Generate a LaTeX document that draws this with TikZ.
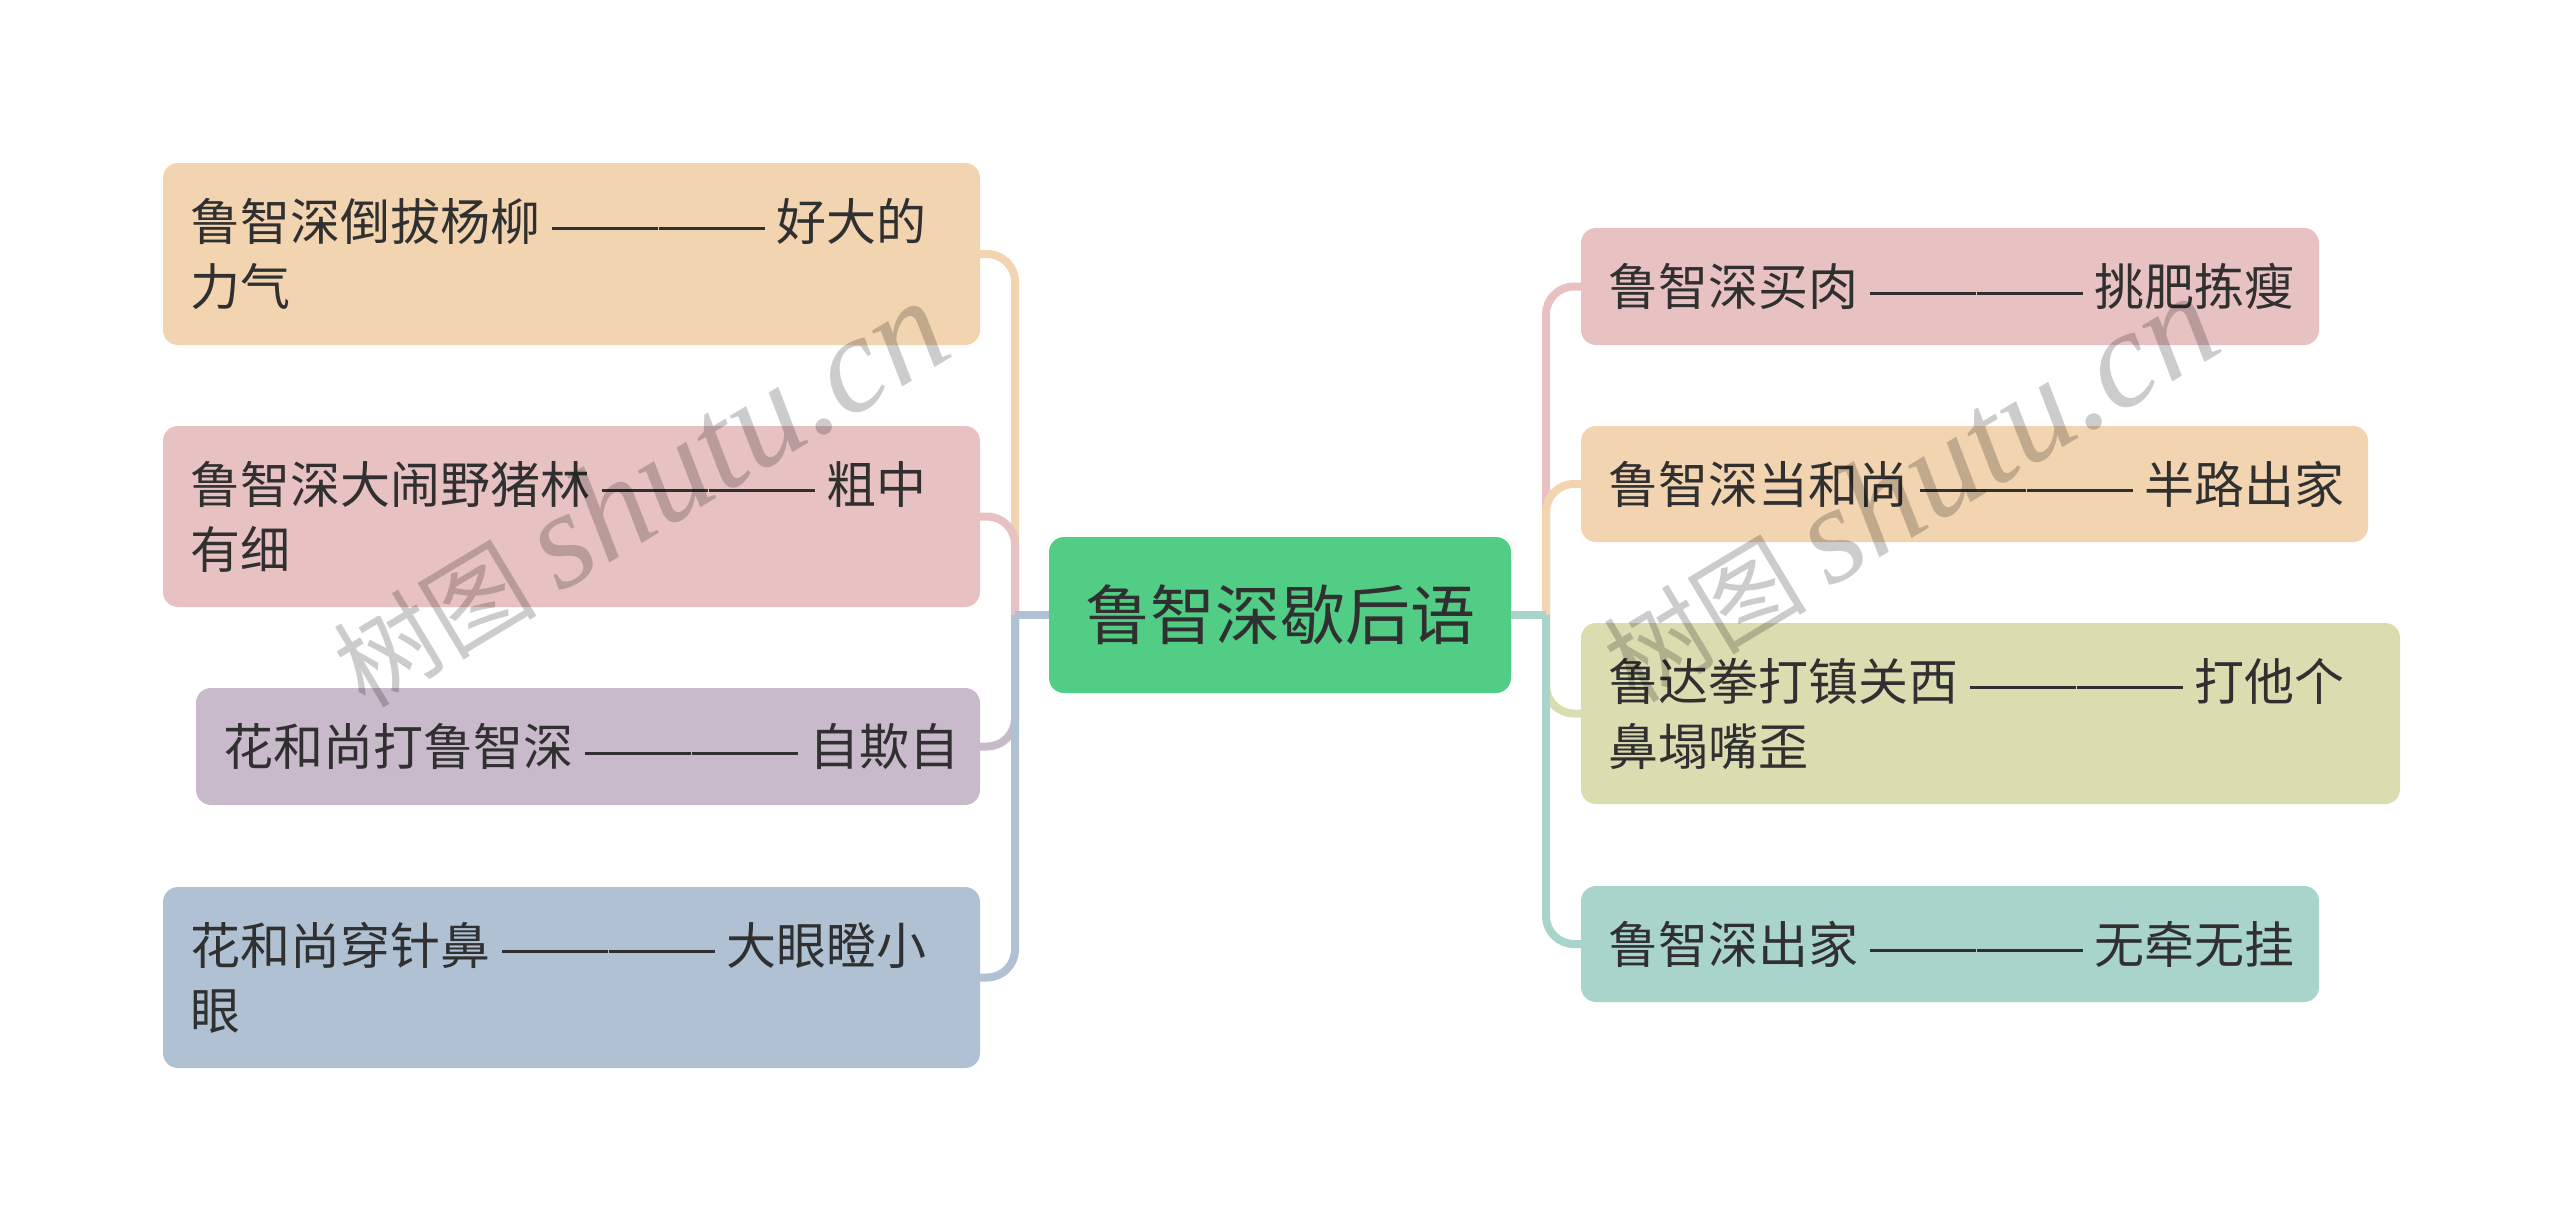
\documentclass[tikz,border=0pt]{standalone}
\usepackage{fontspec}
\setmainfont{Noto Sans CJK SC}
\newfontfamily\wmlatin{Liberation Serif}
\newfontfamily\wmcjk{Noto Sans CJK SC}
\definecolor{cpeach}{HTML}{F2D4B1}
\definecolor{cpink}{HTML}{E8C2C2}
\definecolor{cpurple}{HTML}{C8BACA}
\definecolor{cblue}{HTML}{B0C1D3}
\definecolor{cgreen}{HTML}{52CD85}
\definecolor{cygreen}{HTML}{D9DDB0}
\definecolor{cteal}{HTML}{A9D4CB}
\definecolor{txt}{HTML}{303030}
\newcommand\dsh{\mbox{\hspace{12pt}\rule[11pt]{53pt}{3pt}\hspace{0.4pt}\rule[11pt]{53pt}{3pt}\hspace{0.4pt}\rule[11pt]{53pt}{3pt}\hspace{0.4pt}\rule[11pt]{53pt}{3pt}\hspace{11pt}}}
\tikzset{
  leaf/.style={rectangle, rounded corners=15pt, inner xsep=27pt, inner ysep=0pt,
    align=left, text=txt, font=\fontsize{50}{65}\selectfont},
  rootbox/.style={rectangle, rounded corners=15pt, inner sep=0pt, align=center,
    text=txt, fill=cgreen, font=\fontsize{65}{70}\selectfont},
  conn/.style={line width=8pt},
  wm/.style={text=black, text opacity=0.2, inner sep=0pt},
}
\begin{document}
\begin{tikzpicture}[x=1pt,y=-1pt]
\useasboundingbox (0,0) rectangle (2560,1231);
% root
\node[rootbox, minimum width=462pt, minimum height=156pt] (C) at (1280,615) {鲁智深歇后语};
% left
\node[leaf, fill=cpeach, minimum height=182pt, text width=763pt] (L1) at (571.5,254) {鲁智深倒拔杨柳\dsh 好大的\\力气};
\node[leaf, fill=cpink, minimum height=181pt, text width=763pt] (L2) at (571.5,516.5) {鲁智深大闹野猪林\dsh 粗中\\有细};
\node[leaf, fill=cpurple, minimum height=117pt, text width=730pt] (L3) at (588,746.5) {花和尚打鲁智深\dsh 自欺自};
\node[leaf, fill=cblue, minimum height=181pt, text width=763pt] (L4) at (571.5,977.5) {花和尚穿针鼻\dsh 大眼瞪小\\眼};
% right
\node[leaf, fill=cpink, minimum height=117pt, text width=684pt] (R1) at (1950,286.5) {鲁智深买肉\dsh 挑肥拣瘦};
\node[leaf, fill=cpeach, minimum height=116pt, text width=733pt] (R2) at (1974.5,484) {鲁智深当和尚\dsh 半路出家};
\node[leaf, fill=cygreen, minimum height=181pt, text width=765pt] (R3) at (1990.5,713.5) {鲁达拳打镇关西\dsh 打他个\\鼻塌嘴歪};
\node[leaf, fill=cteal, minimum height=116pt, text width=684pt] (R4) at (1950,944) {鲁智深出家\dsh 无牵无挂};
% connectors
\coordinate (jl) at (1015,615);
\coordinate (jr) at (1546,615);
\foreach \n/\c in {L1/cpeach,L2/cpink,L3/cpurple,L4/cblue}{
  \draw[conn, draw=\c] (C.west) -- (jl);
  \draw[conn, draw=\c, rounded corners=28pt] (jl) |- (\n.east);
}
\foreach \n/\c in {R1/cpink,R2/cpeach,R3/cygreen,R4/cteal}{
  \draw[conn, draw=\c] (C.east) -- (jr);
  \draw[conn, draw=\c, rounded corners=28pt] (jr) |- (\n.west);
}
% watermarks
\node[wm, anchor=base west, rotate=31] (w1) at (365,710) {\fontsize{102}{110}\wmcjk 树图 \fontsize{138}{140}\wmlatin\itshape shutu.cn};
\node[wm, anchor=base west, rotate=31] (w2) at (1635,705) {\fontsize{102}{110}\wmcjk 树图 \fontsize{138}{140}\wmlatin\itshape shutu.cn};
\end{tikzpicture}
\end{document}
